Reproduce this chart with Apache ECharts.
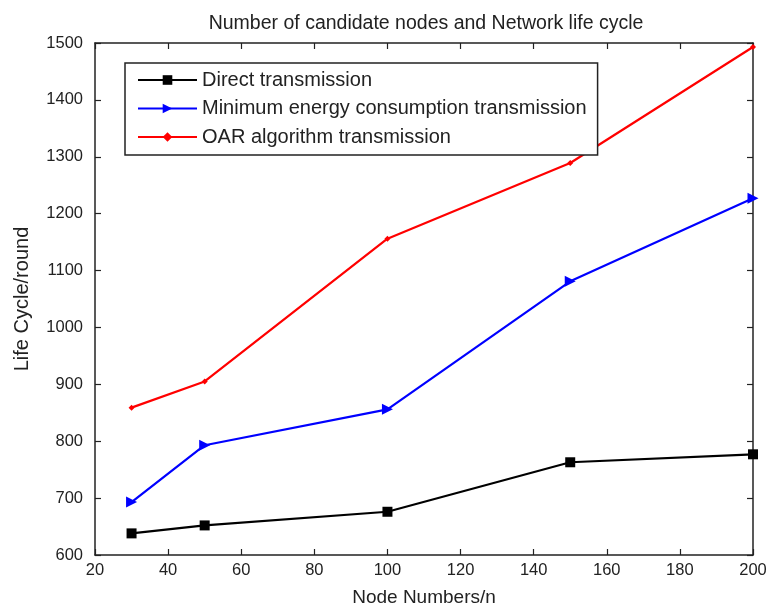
<!DOCTYPE html>
<html><head><meta charset="utf-8">
<script src="https://cdn.jsdelivr.net/npm/echarts@6/dist/echarts.min.js"></script>
<style>html,body{margin:0;padding:0;background:#fff}#c{width:771px;height:608px}</style>
</head><body><div id="c"></div>
<script>
const nodeNumbers = [30, 50, 100, 150, 200];
const directTx = [638, 652, 676, 763, 777];
const minEnergyTx = [693, 793, 856, 1081, 1227];
const oarTx = [859, 905, 1156, 1289, 1493];
const xTicks = [20, 200, 20];
const yTicks = [600, 1500, 100];

const font = 'Liberation Sans, Arial, sans-serif';
const chart = echarts.init(document.getElementById('c'), null, {renderer: 'canvas'});
const pair = a => nodeNumbers.map((x, i) => [x, a[i]]);
const axisCommon = {
  axisLine: {show: true, onZero: false, lineStyle: {color: '#222', width: 1.5}},
  axisTick: {show: true, inside: true, length: 6, lineStyle: {color: '#222', width: 1.2}},
  splitLine: {show: false}
};
chart.setOption({
  animation: false,
  title: {text: 'Number of candidate nodes and Network life cycle', left: 421, top: 9, textAlign: 'center',
    textStyle: {fontFamily: font, fontWeight: 'normal', fontSize: 19.5, color: '#222'}},
  grid: {left: 95, right: 18, top: 43, bottom: 53, containLabel: false, outerBoundsMode: 'none'},
  legend: {
    orient: 'vertical', left: 125, top: 63, itemGap: 6.5, itemWidth: 59, itemHeight: 12,
    padding: [6, 11, 7, 12],
    borderColor: '#222', borderWidth: 1.5, backgroundColor: '#fff',
    textStyle: {fontFamily: font, fontSize: 20, lineHeight: 22, color: '#222'},
    data: ['Direct transmission', 'Minimum energy consumption transmission', 'OAR algorithm transmission']
  },
  xAxis: [
    Object.assign({type: 'value', min: xTicks[0], max: xTicks[1], interval: xTicks[2], position: 'bottom',
      name: 'Node Numbers/n', nameLocation: 'middle', nameGap: 33,
      nameTextStyle: {fontFamily: font, fontSize: 19, color: '#222'},
      axisLabel: {fontFamily: font, fontSize: 16.5, color: '#222', margin: 7}}, axisCommon),
    Object.assign({type: 'value', min: xTicks[0], max: xTicks[1], interval: xTicks[2], position: 'top',
      axisLabel: {show: false}}, axisCommon)
  ],
  yAxis: [
    Object.assign({type: 'value', min: yTicks[0], max: yTicks[1], interval: yTicks[2], position: 'left',
      name: 'Life Cycle/round', nameLocation: 'middle', nameGap: 63, nameRotate: 90,
      nameTextStyle: {fontFamily: font, fontSize: 20, color: '#222'},
      axisLabel: {fontFamily: font, fontSize: 16.5, color: '#222', margin: 12, formatter: v => String(v)}}, axisCommon),
    Object.assign({type: 'value', min: yTicks[0], max: yTicks[1], interval: yTicks[2], position: 'right',
      axisLabel: {show: false}}, axisCommon)
  ],
  series: [
    {name: 'Direct transmission', type: 'line', data: pair(directTx), color: '#000',
      symbol: 'rect', symbolSize: 10, lineStyle: {width: 2.2}, itemStyle: {color: '#000'}},
    {name: 'Minimum energy consumption transmission', type: 'line', data: pair(minEnergyTx), color: '#0000ff',
      symbol: 'triangle', symbolRotate: -90, symbolSize: 11, lineStyle: {width: 2.2}, itemStyle: {color: '#0000ff'}},
    {name: 'OAR algorithm transmission', type: 'line', data: pair(oarTx), color: '#ff0000',
      symbol: 'diamond', symbolSize: 6, lineStyle: {width: 2.2}, itemStyle: {color: '#ff0000'}}
  ]
});
</script></body></html>
